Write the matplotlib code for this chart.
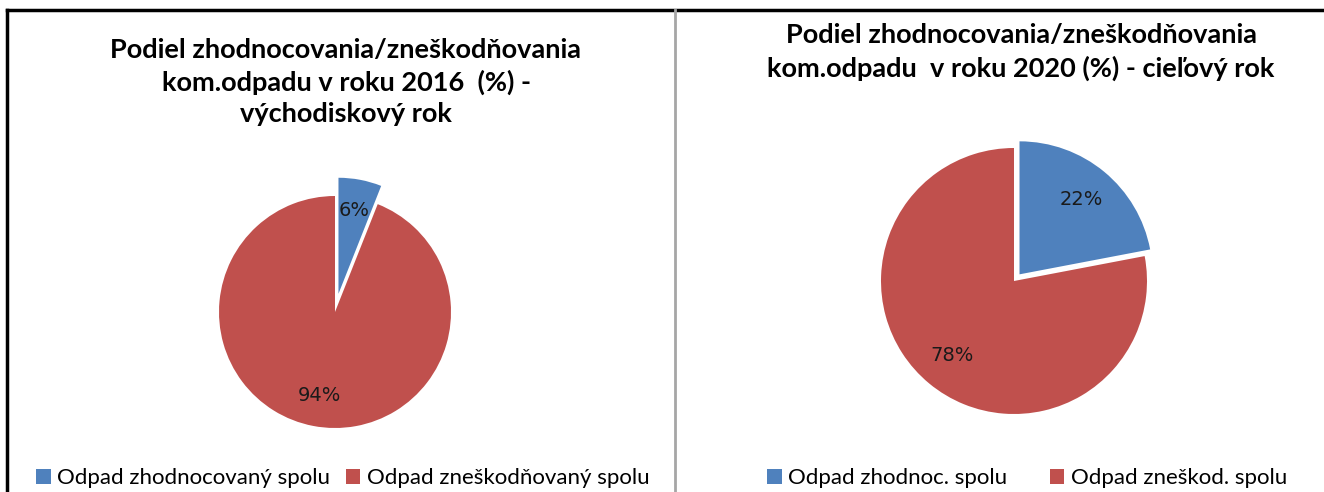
import matplotlib.pyplot as plt
from matplotlib.lines import Line2D
from matplotlib.patches import Patch

# data
labels_2016 = ['Odpad zhodnocovaný spolu', 'Odpad zneškodňovaný spolu']
values_2016 = [6, 94]
labels_2020 = ['Odpad zhodnoc. spolu', 'Odpad zneškod. spolu']
values_2020 = [22, 78]
title_2016 = 'Podiel zhodnocovania/zneškodňovania\nkom.odpadu v roku 2016  (%) -\nvýchodiskový rok'
title_2020 = 'Podiel zhodnocovania/zneškodňovania\nkom.odpadu  v roku 2020 (%) - cieľový rok'

colors = ['#4F81BD', '#C0504D']
font = 'Lato'

W, H = 1324, 492
fig = plt.figure(figsize=(W / 100, H / 100), dpi=100)


def px_axes(cx, cy, r):
    # square axes centred on pixel (cx, cy), pie radius r pixels, limits +-1.25
    side = 2.5 * r
    return fig.add_axes([(cx - side / 2) / W, (H - cy - side / 2) / H, side / W, side / H])


def draw_pie(ax, values, explode):
    wedges, texts, autotexts = ax.pie(values, colors=colors, startangle=90, counterclock=False,
                                      explode=[explode, 0], autopct='%.0f%%', pctdistance=0.73,
                                      wedgeprops=dict(linewidth=0))
    for t in autotexts:
        t.set_fontsize(14)
        t.set_family('DejaVu Sans')
        t.set_color('#1a1a1a')
    ax.set_xlim(-1.25, 1.25)
    ax.set_ylim(-1.25, 1.25)
    ax.set_aspect('equal')
    ax.axis('off')
    return wedges


ax1 = px_axes(335, 312, 116)
draw_pie(ax1, values_2016, 0.16)
ax2 = px_axes(1014, 281, 133)
draw_pie(ax2, values_2020, 0.065)

# titles
fig.text(346 / W, 1 - 82 / H, title_2016, ha='center', va='center', fontsize=19.5,
         fontweight='bold', family=font, linespacing=1.38)
fig.text(1021 / W, 1 - 52 / H, title_2020, ha='center', va='center', fontsize=19.5,
         fontweight='bold', family=font, linespacing=1.38)

# legends
h1 = [Patch(facecolor=c, edgecolor='none') for c in colors]
fig.legend(h1, labels_2016, loc='center', bbox_to_anchor=(343 / W, 1 - 478 / H), ncol=2,
           frameon=False, prop={'family': font, 'size': 16}, handlelength=0.65, handleheight=0.65,
           handletextpad=0.3, columnspacing=0.7)
fig.legend(h1, labels_2020, loc='center', bbox_to_anchor=(1027 / W, 1 - 478 / H), ncol=2,
           frameon=False, prop={'family': font, 'size': 16}, handlelength=0.65, handleheight=0.65,
           handletextpad=0.3, columnspacing=1.9)

# frame lines
top = 1 - 10 / H
fig.add_artist(Line2D([7 / W, 1], [top, top], color='black', linewidth=2.5))
fig.add_artist(Line2D([7 / W, 7 / W], [0, top], color='black', linewidth=2.5))
fig.add_artist(Line2D([675 / W, 675 / W], [0, top], color='#a6a6a6', linewidth=2))

fig.savefig('out.png', dpi=100)
